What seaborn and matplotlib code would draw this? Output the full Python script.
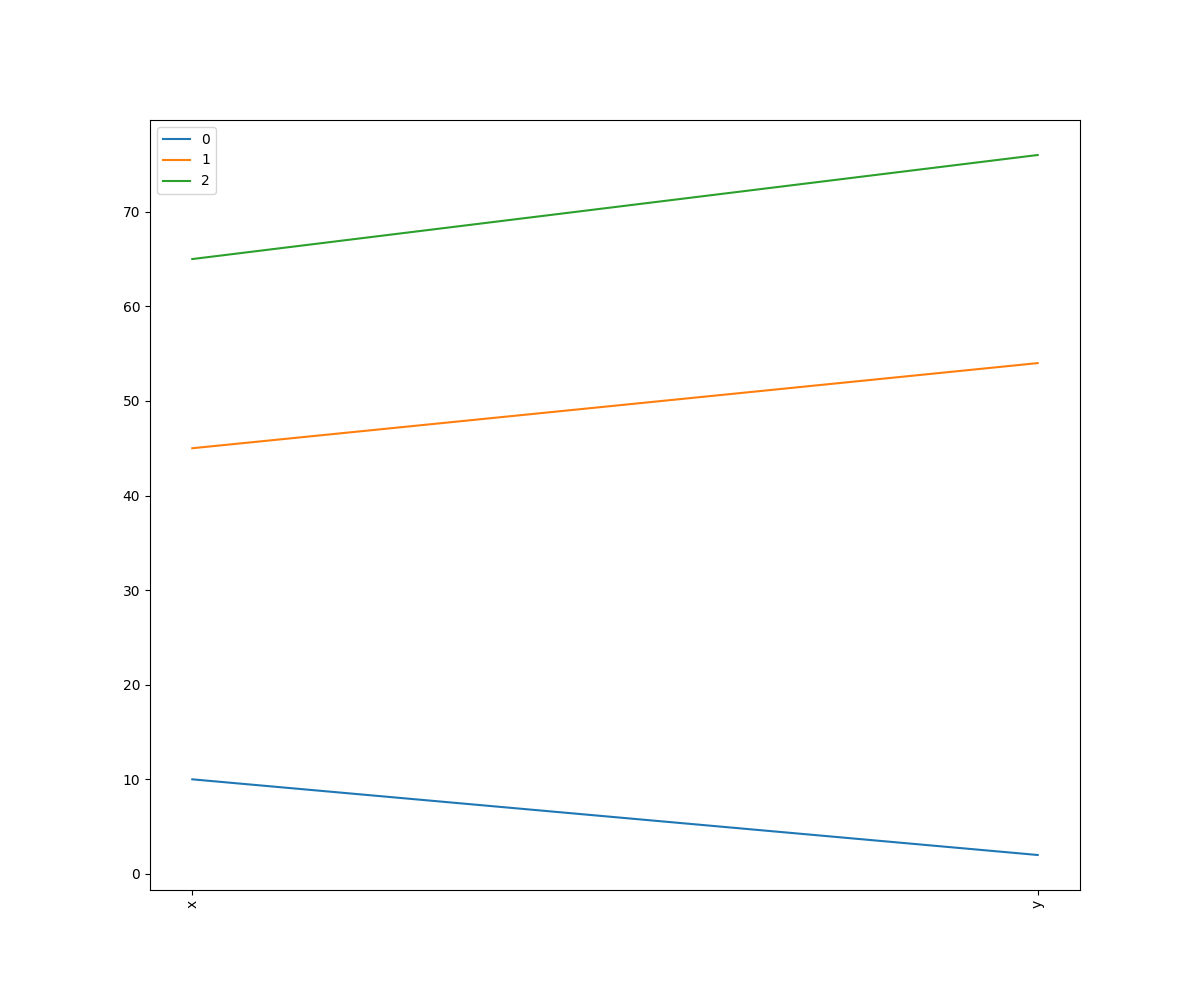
import pandas as pd
import seaborn as sns
import matplotlib.pyplot as plt

columns = ['x', 'y']
row_ids = ['0', '1', '2']
x_values = [10, 45, 65]
y_values = [2, 54, 76]

df = pd.DataFrame({'x': x_values, 'y': y_values}, index=row_ids)
long_df = df.reset_index(names='row').melt(id_vars='row', value_vars=columns,
                                           var_name='column', value_name='value')

fig, ax = plt.subplots(figsize=(12, 10), dpi=100)
sns.lineplot(data=long_df, x='column', y='value', hue='row',
             palette=['#1f77b4', '#ff7f0e', '#2ca02c'], ax=ax)

ax.set_xlabel('')
ax.set_ylabel('')
ax.margins(x=0.05, y=0.05)
plt.xticks(rotation=90)
ax.legend(loc='upper left')

plt.savefig('out.png')
